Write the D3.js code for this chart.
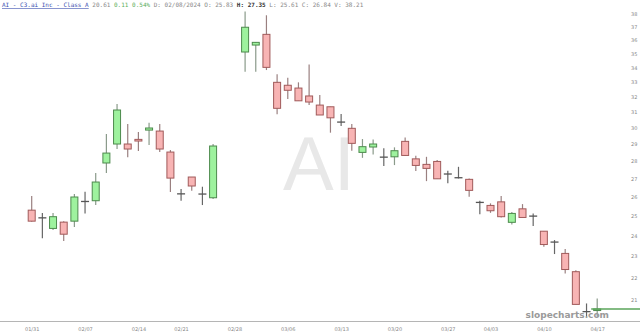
<!DOCTYPE html>
<html>
<head>
<meta charset="utf-8">
<script src="https://cdn.jsdelivr.net/npm/d3@7"></script>
<style>
  body { margin: 0; background: #fff; }
  svg { display: block; }
</style>
</head>
<body>
<div id="chart"></div>
<script>
// trading days shown on the chart (02/27 and 02/28 have no candle)
var days = ["01/31","02/01","02/02","02/05","02/06","02/07","02/08","02/09","02/12","02/13",
  "02/14","02/15","02/16","02/20","02/21","02/22","02/23","02/26","02/27","02/28",
  "02/29","03/01","03/04","03/05","03/06","03/07","03/08","03/11","03/12","03/13",
  "03/14","03/15","03/18","03/19","03/20","03/21","03/22","03/25","03/26","03/27",
  "03/28","04/01","04/02","04/03","04/04","04/05","04/08","04/09","04/10","04/11",
  "04/12","04/15","04/16","04/17"];

var open = [25.30,24.92,24.36,24.68,24.73,25.72,25.80,27.90,29.02,29.02,
  29.30,29.87,29.81,28.54,26.20,27.10,26.18,25.96,null,null,
  35.12,35.63,36.43,32.98,32.78,32.59,32.06,31.46,31.35,30.40,
  29.98,28.52,28.84,28.26,28.26,29.18,28.14,27.82,27.99,27.28,
  27.07,26.97,25.72,25.55,25.74,24.67,25.37,25.01,24.22,23.69,
  23.13,22.27,20.52,20.55];
var high = [26.05,25.15,25.15,24.73,26.16,26.28,27.32,29.63,31.53,30.25,
  29.75,30.33,30.25,28.66,26.43,27.10,26.56,29.02,null,null,
  38.20,35.85,37.90,33.53,33.30,32.98,34.23,32.12,31.35,30.88,
  30.25,29.32,29.30,28.76,28.82,29.42,28.32,28.26,28.07,27.45,
  27.68,27.02,25.80,25.66,26.05,25.21,25.62,25.13,24.22,23.78,
  23.34,22.34,20.85,21.07];
var low = [24.70,23.87,24.28,23.73,24.43,25.13,25.57,27.32,28.72,28.24,
  28.60,28.96,28.54,26.27,25.80,26.34,25.57,25.89,null,null,
  33.71,33.71,33.83,30.86,31.86,31.74,31.46,30.82,29.71,30.12,
  28.62,28.20,28.40,27.72,27.78,28.32,27.44,26.87,27.00,26.75,
  27.02,26.01,25.09,25.16,24.92,24.56,24.92,24.48,23.45,23.10,
  22.19,20.81,20.28,20.28];
var close = [24.73,24.90,24.96,24.07,26.00,25.76,26.82,28.48,31.14,28.72,
  29.20,30.00,28.72,27.04,26.17,26.60,26.16,28.90,null,null,
  36.97,35.83,34.02,31.25,32.44,31.74,31.66,30.82,30.64,30.37,
  29.06,28.86,29.02,28.24,28.62,28.34,27.76,27.59,27.00,27.27,
  27.06,26.36,25.71,25.27,24.96,25.13,24.92,24.99,23.56,23.68,
  22.37,20.81,20.50,20.61];

var xTicks = ["01/31","02/07","02/14","02/21","02/28","03/06","03/13","03/20","03/27","04/03","04/10","04/17"];
var yTicks = [21,22,23,24,25,26,27,28,29,30,31,32,33,34,35,36,37,38];

var width = 640, height = 336;

var svg = d3.select("#chart")
    .append("svg")
    .attr("width", width)
    .attr("height", height);

var x = d3.scalePoint()
    .domain(days)
    .range([31.7, 597.2]);

var y = d3.scaleLog()
    .domain([21, 38])
    .range([300, 14]);

// watermark
svg.append("text")
    .attr("x", 319)
    .attr("y", 190)
    .attr("text-anchor", "middle")
    .style("font-family", "Liberation Sans, Arial, sans-serif")
    .style("font-size", "76px")
    .style("fill", "#e8e8e8")
    .text("AI");

// bottom axis
var xAxis = d3.axisBottom(x).tickValues(xTicks).tickSize(0).tickPadding(6);
var gx = svg.append("g")
    .attr("transform", "translate(0,321)")
    .call(xAxis);
gx.select(".domain").remove();
gx.selectAll("text")
    .style("font-family", "DejaVu Sans, sans-serif")
    .style("font-size", "5px")
    .style("fill", "#888");
svg.append("line")
    .attr("x1", 0).attr("x2", width)
    .attr("y1", 321.5).attr("y2", 321.5)
    .attr("stroke", "#b5b5b5")
    .attr("stroke-width", 1);

// right axis
var yAxis = d3.axisRight(y).tickValues(yTicks).tickFormat(d3.format("d")).tickSize(0).tickPadding(0);
var gy = svg.append("g")
    .attr("transform", "translate(631,0)")
    .call(yAxis);
gy.select(".domain").remove();
gy.selectAll("text")
    .style("font-family", "DejaVu Sans, sans-serif")
    .style("font-size", "5px")
    .style("fill", "#888");

var data = days.map(function (d, i) {
    return {day: d, o: open[i], h: high[i], l: low[i], c: close[i]};
}).filter(function (d) { return d.o !== null; });

var bw = 7;

function isDoji(d) { return Math.abs(d.o - d.c) < 0.05; }

// wicks
svg.selectAll("mywick")
    .data(data)
    .enter()
    .append("line")
    .attr("x1", function (d) { return x(d.day); })
    .attr("x2", function (d) { return x(d.day); })
    .attr("y1", function (d) { return y(d.h); })
    .attr("y2", function (d) { return y(d.l); })
    .attr("stroke", function (d) {
        if (isDoji(d)) return "#666";
        return d.c > d.o ? "#8a9a8a" : "#9a8080";
    })
    .attr("stroke-width", 1.2);

// bodies
svg.selectAll("mybody")
    .data(data.filter(function (d) { return !isDoji(d); }))
    .enter()
    .append("rect")
    .attr("x", function (d) { return x(d.day) - bw / 2; })
    .attr("width", bw)
    .attr("y", function (d) { return y(Math.max(d.o, d.c)); })
    .attr("height", function (d) { return Math.max(1.5, y(Math.min(d.o, d.c)) - y(Math.max(d.o, d.c))); })
    .attr("fill", function (d) { return d.c > d.o ? "#9ef29e" : "#f8b4b4"; })
    .attr("stroke", function (d) { return d.c > d.o ? "#4d8a4d" : "#a05a5a"; })
    .attr("stroke-width", 1);

// doji ticks
svg.selectAll("mydoji")
    .data(data.filter(isDoji))
    .enter()
    .append("line")
    .attr("x1", function (d) { return x(d.day) - bw / 2 - 0.5; })
    .attr("x2", function (d) { return x(d.day) + bw / 2 + 0.5; })
    .attr("y1", function (d) { return y(d.c); })
    .attr("y2", function (d) { return y(d.c); })
    .attr("stroke", "#555")
    .attr("stroke-width", 1.3);

// last price line
var last = close[close.length - 1];
svg.append("line")
    .attr("x1", x(days[days.length - 1]) - 6)
    .attr("x2", width)
    .attr("y1", y(last))
    .attr("y2", y(last))
    .attr("stroke", "#5aa55a")
    .attr("stroke-width", 1.5);

svg.append("text")
    .attr("x", 609)
    .attr("y", 318)
    .attr("text-anchor", "end")
    .style("font-family", "DejaVu Sans, sans-serif")
    .style("font-size", "9px")
    .style("font-weight", "bold")
    .style("fill", "#9a9a9a")
    .text("slopecharts.com");

// header
var head = svg.append("text")
    .attr("x", 2)
    .attr("y", 7)
    .style("font-family", "DejaVu Sans Mono, monospace")
    .style("font-size", "6px")
    .style("fill", "#888");
head.append("tspan").text("AI - C3.ai Inc - Class A")
    .style("fill", "#3b4fb0").style("text-decoration", "underline");
head.append("tspan").text(" 20.61 ");
head.append("tspan").text("0.11 0.54%").style("fill", "#5cae5c");
head.append("tspan").text(" D: 02/08/2024 O: 25.83 ");
head.append("tspan").text("H: 27.35").style("fill", "#333").style("font-weight", "bold");
head.append("tspan").text(" L: 25.61 C: 26.84 V: 38.21");
</script>
</body>
</html>
